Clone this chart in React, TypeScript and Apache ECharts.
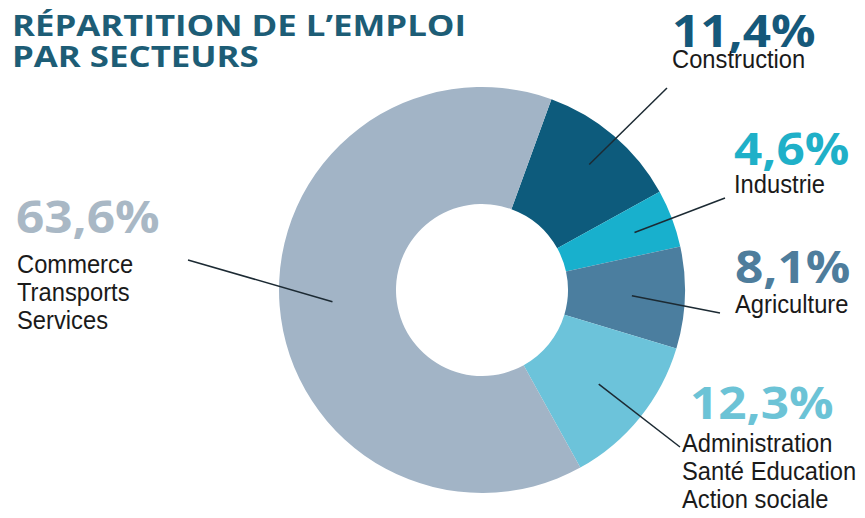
import React, { useEffect, useRef } from "react";
import * as echarts from "echarts";

const categories = [
  "Construction",
  "Industrie",
  "Agriculture",
  "Administration\nSanté Education\nAction sociale",
  "Commerce\nTransports\nServices",
];
const values = [11.4, 4.6, 8.1, 12.3, 63.6];
const valueLabels = ["11,4%", "4,6%", "8,1%", "12,3%", "63,6%"];
const sliceColors = ["#0d5b7c", "#18b0cd", "#4b7e9f", "#6cc3da", "#a2b4c6"];
const labelColors = ["#15587a", "#1fb0c8", "#4e7d9c", "#6cc3d6", "#a9b8c5"];
const titleLines = ["RÉPARTITION DE L’EMPLOI", "PAR SECTEURS"];

// layout (pixels)
const CX = 482;
const CY = 290;
const R_IN = 86;
const R_OUT = 203;
const START_DEG_FROM_NORTH = 20;
const labelPos = [
  { x: 672, pctY: 29, txtY: 59, lineEnd: [667, 88] },
  { x: 734, pctY: 147, txtY: 184, lineEnd: [725, 198] },
  { x: 735, pctY: 265, txtY: 304, lineEnd: [720, 313] },
  { x: 690, pctY: 401, txtY: 443, lineEnd: [680, 447], txtX: 682 },
  { x: 16, pctY: 215, txtY: 264, lineEnd: [188, 260], txtX: 17 },
];
const leaderR = [165, 163, 150, 150, 150];

export default function App() {
  const ref = useRef<HTMLDivElement>(null);
  useEffect(() => {
    document.body.style.margin = "0";
    const chart = echarts.init(ref.current!, null, { renderer: "svg" });
    const total = values.reduce((a, b) => a + b, 0);
    const graphics: any[] = [];
    titleLines.forEach((t, i) => {
      graphics.push({
        type: "text",
        x: 12,
        y: 25 + i * 31,
        scaleX: 1.2,
        style: {
          text: t,
          fill: "#1d5d76",
          font: "bold 29px 'Open Sans', sans-serif",
          textAlign: "left",
          textVerticalAlign: "middle",
        },
      });
    });
    let cum = 0;
    values.forEach((v, i) => {
      const mid = START_DEG_FROM_NORTH + ((cum + v / 2) / total) * 360;
      cum += v;
      const rad = (mid * Math.PI) / 180;
      const sx = CX + leaderR[i] * Math.sin(rad);
      const sy = CY - leaderR[i] * Math.cos(rad);
      const p = labelPos[i];
      graphics.push({
        type: "line",
        shape: { x1: sx, y1: sy, x2: p.lineEnd[0], y2: p.lineEnd[1] },
        style: { stroke: "#1c2a33", lineWidth: 1.5 },
        z: 10,
      });
      graphics.push({
        type: "text",
        x: p.x,
        y: p.pctY,
        scaleX: 1.1,
        style: {
          text: valueLabels[i],
          fill: labelColors[i],
          font: "bold 45px 'Open Sans', sans-serif",
          textAlign: "left",
          textVerticalAlign: "middle",
        },
      });
      categories[i].split("\n").forEach((line, j) => {
        graphics.push({
          type: "text",
          x: p.txtX ?? p.x,
          y: p.txtY + j * 28,
          scaleX: 0.95,
          style: {
            text: line,
            fill: "#1a1a1a",
            font: "25px 'Liberation Sans', Arial, sans-serif",
            textAlign: "left",
            textVerticalAlign: "middle",
          },
        });
      });
    });

    chart.setOption({
      animation: false,
      backgroundColor: "#ffffff",
      series: [
        {
          type: "pie",
          center: [CX, CY],
          radius: [R_IN, R_OUT],
          startAngle: 90 - START_DEG_FROM_NORTH,
          clockwise: true,
          label: { show: false },
          labelLine: { show: false },
          emphasis: { disabled: true },
          itemStyle: { borderWidth: 0 },
          data: values.map((v, i) => ({
            name: categories[i],
            value: v,
            itemStyle: { color: sliceColors[i] },
          })),
        },
      ],
      graphic: graphics,
    });
    return () => chart.dispose();
  }, []);
  return <div ref={ref} style={{ width: 865, height: 518 }} />;
}
